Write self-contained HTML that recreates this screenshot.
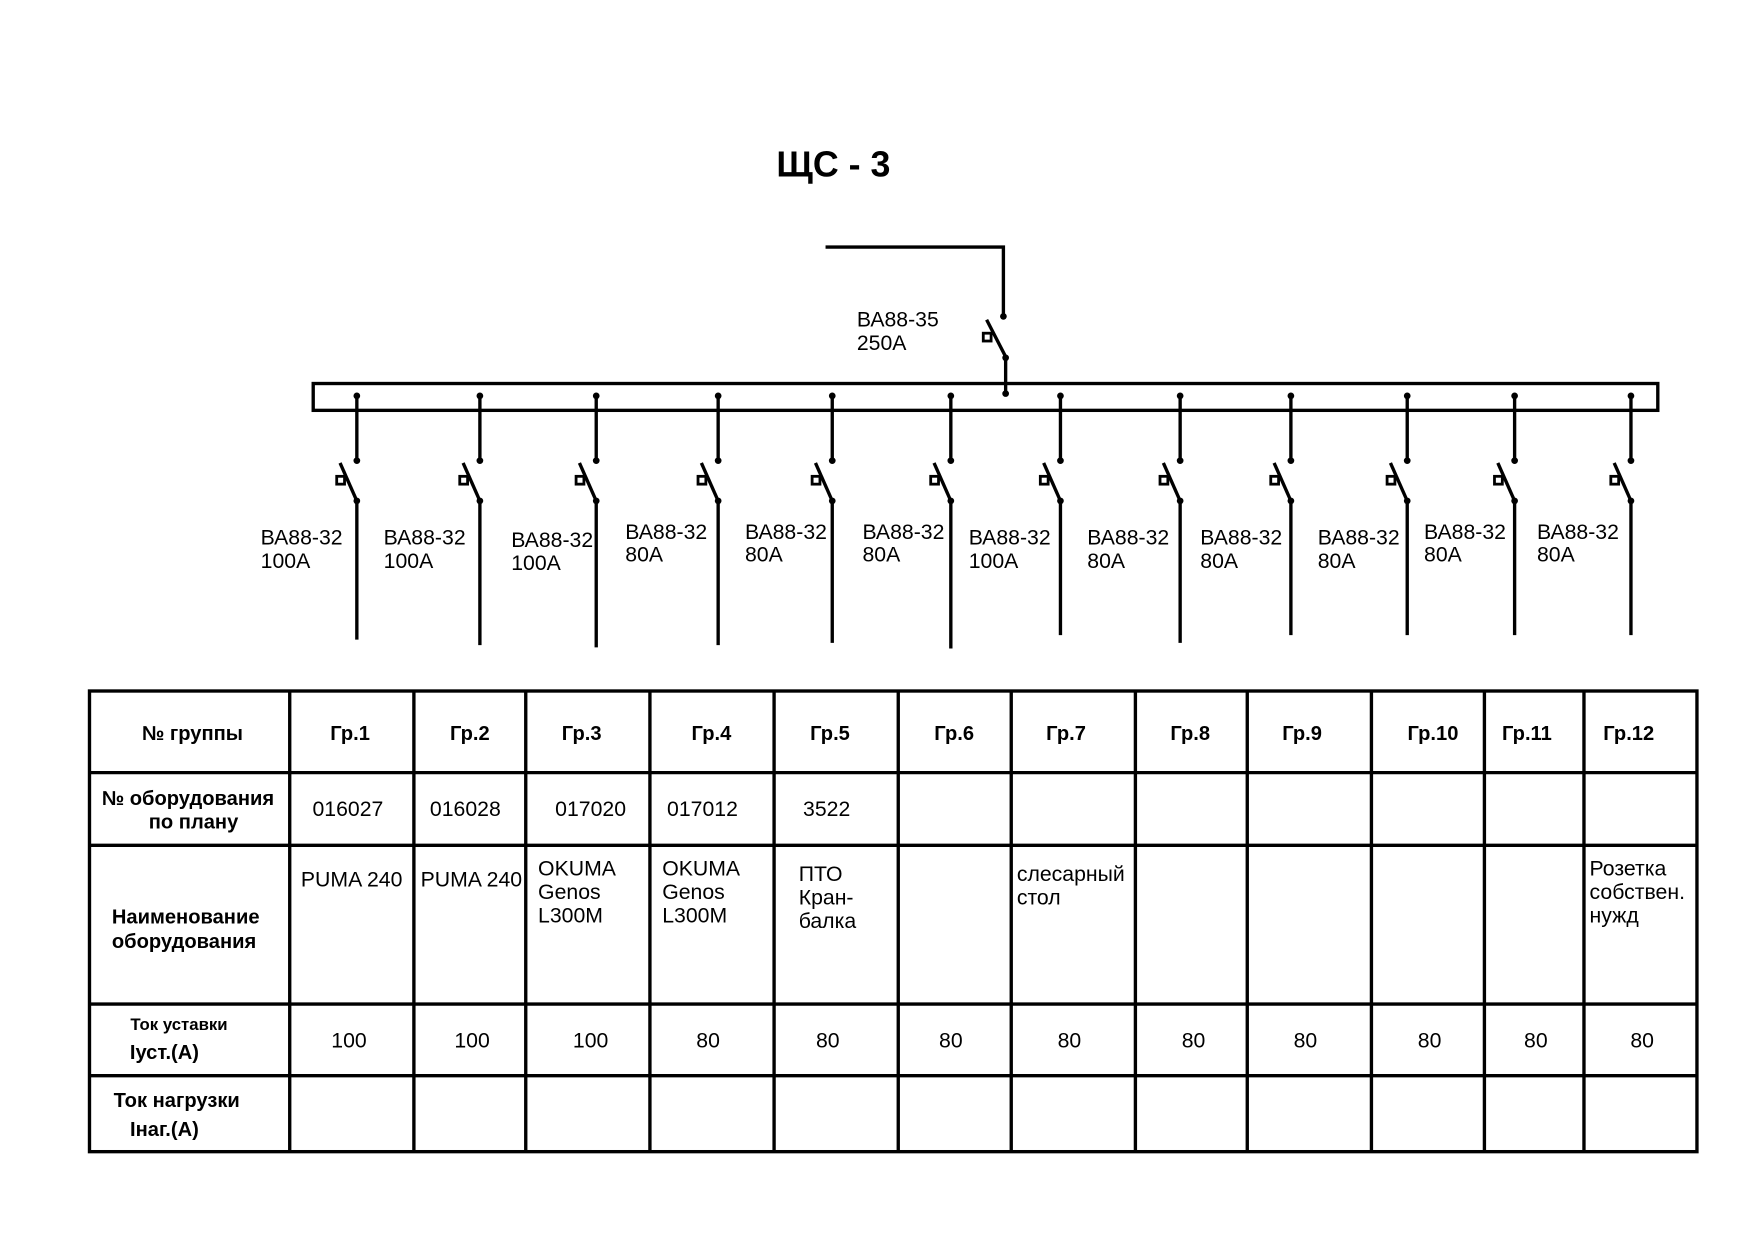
<!DOCTYPE html>
<html><head><meta charset="utf-8"><style>
html,body{margin:0;padding:0;background:#fff;}
svg{display:block;}
text{font-family:"Liberation Sans",Arial,sans-serif;fill:#000;}
.b{font-weight:bold;}
.l{font-size:19px;}
.h{font-size:18px;font-weight:bold;text-anchor:middle;}
.c{font-size:19px;text-anchor:middle;}
</style></head><body>
<svg width="1754" height="1240" viewBox="0 0 1568 1109" preserveAspectRatio="none" xmlns="http://www.w3.org/2000/svg">
<defs>
<g id="sw">
<line x1="0" y1="354" x2="0" y2="412" stroke="#000" stroke-width="3"/>
<circle cx="0" cy="354" r="3" fill="#000"/><circle cx="0" cy="412" r="3" fill="#000"/>
<line x1="-15" y1="414" x2="0" y2="448" stroke="#000" stroke-width="3"/>
<rect x="-18" y="426" width="7" height="7" fill="none" stroke="#000" stroke-width="2.5"/>
<circle cx="0" cy="448" r="3" fill="#000"/>
</g>
</defs>
<rect width="1568" height="1109" fill="#fff"/>
<text x="745" y="158" class="b" font-size="32" text-anchor="middle">ЩС - 3</text>
<g stroke="#000" stroke-width="3" fill="none">
<polyline points="738,221 897,221 897,283"/>
<line x1="882" y1="286" x2="899" y2="319"/>
<rect x="879" y="298" width="7" height="7" stroke-width="2.5"/>
<line x1="899" y1="320" x2="899" y2="352"/>
<rect x="280" y="343" width="1202" height="24"/>
</g>
<g fill="#000"><circle cx="897" cy="283" r="3"/><circle cx="899" cy="320" r="3"/><circle cx="899" cy="352" r="3"/></g>
<text x="766" y="292" class="l">ВА88-35</text>
<text x="766" y="313" class="l">250А</text>

<use href="#sw" transform="translate(319,0)"/>
<use href="#sw" transform="translate(429,0)"/>
<use href="#sw" transform="translate(533,0)"/>
<use href="#sw" transform="translate(642,0)"/>
<use href="#sw" transform="translate(744,0)"/>
<use href="#sw" transform="translate(850,0)"/>
<use href="#sw" transform="translate(948,0)"/>
<use href="#sw" transform="translate(1055,0)"/>
<use href="#sw" transform="translate(1154,0)"/>
<use href="#sw" transform="translate(1258,0)"/>
<use href="#sw" transform="translate(1354,0)"/>
<use href="#sw" transform="translate(1458,0)"/>
<g stroke="#000" stroke-width="3">
<line x1="319" y1="448" x2="319" y2="572"/>
<line x1="429" y1="448" x2="429" y2="577"/>
<line x1="533" y1="448" x2="533" y2="579"/>
<line x1="642" y1="448" x2="642" y2="577"/>
<line x1="744" y1="448" x2="744" y2="575"/>
<line x1="850" y1="448" x2="850" y2="580"/>
<line x1="948" y1="448" x2="948" y2="568"/>
<line x1="1055" y1="448" x2="1055" y2="575"/>
<line x1="1154" y1="448" x2="1154" y2="568"/>
<line x1="1258" y1="448" x2="1258" y2="568"/>
<line x1="1354" y1="448" x2="1354" y2="568"/>
<line x1="1458" y1="448" x2="1458" y2="568"/>
</g>
<text x="233" y="487" class="l">ВА88-32</text><text x="233" y="508" class="l">100А</text>
<text x="343" y="487" class="l">ВА88-32</text><text x="343" y="508" class="l">100А</text>
<text x="457" y="489" class="l">ВА88-32</text><text x="457" y="510" class="l">100А</text>
<text x="559" y="482" class="l">ВА88-32</text><text x="559" y="502" class="l">80А</text>
<text x="666" y="482" class="l">ВА88-32</text><text x="666" y="502" class="l">80А</text>
<text x="771" y="482" class="l">ВА88-32</text><text x="771" y="502" class="l">80А</text>
<text x="866" y="487" class="l">ВА88-32</text><text x="866" y="508" class="l">100А</text>
<text x="972" y="487" class="l">ВА88-32</text><text x="972" y="508" class="l">80А</text>
<text x="1073" y="487" class="l">ВА88-32</text><text x="1073" y="508" class="l">80А</text>
<text x="1178" y="487" class="l">ВА88-32</text><text x="1178" y="508" class="l">80А</text>
<text x="1273" y="482" class="l">ВА88-32</text><text x="1273" y="502" class="l">80А</text>
<text x="1374" y="482" class="l">ВА88-32</text><text x="1374" y="502" class="l">80А</text>

<g stroke="#000" stroke-width="3" fill="none">
<rect x="80" y="618" width="1437" height="412"/>
<line x1="259" y1="618" x2="259" y2="1030"/>
<line x1="370" y1="618" x2="370" y2="1030"/>
<line x1="470" y1="618" x2="470" y2="1030"/>
<line x1="581" y1="618" x2="581" y2="1030"/>
<line x1="692" y1="618" x2="692" y2="1030"/>
<line x1="803" y1="618" x2="803" y2="1030"/>
<line x1="904" y1="618" x2="904" y2="1030"/>
<line x1="1015" y1="618" x2="1015" y2="1030"/>
<line x1="1115" y1="618" x2="1115" y2="1030"/>
<line x1="1226" y1="618" x2="1226" y2="1030"/>
<line x1="1327" y1="618" x2="1327" y2="1030"/>
<line x1="1416" y1="618" x2="1416" y2="1030"/>
<line x1="80" y1="691" x2="1517" y2="691"/>
<line x1="80" y1="756" x2="1517" y2="756"/>
<line x1="80" y1="898" x2="1517" y2="898"/>
<line x1="80" y1="962" x2="1517" y2="962"/>
</g>
<text x="172" y="662" class="h">№ группы</text>
<text x="313" y="662" class="h">Гр.1</text>
<text x="420" y="662" class="h">Гр.2</text>
<text x="520" y="662" class="h">Гр.3</text>
<text x="636" y="662" class="h">Гр.4</text>
<text x="742" y="662" class="h">Гр.5</text>
<text x="853" y="662" class="h">Гр.6</text>
<text x="953" y="662" class="h">Гр.7</text>
<text x="1064" y="662" class="h">Гр.8</text>
<text x="1164" y="662" class="h">Гр.9</text>
<text x="1281" y="662" class="h">Гр.10</text>
<text x="1365" y="662" class="h">Гр.11</text>
<text x="1456" y="662" class="h">Гр.12</text>

<text x="168" y="720" class="h">№ оборудования</text>
<text x="173" y="741" class="h">по плану</text>
<text x="311" y="730" class="c">016027</text>
<text x="416" y="730" class="c">016028</text>
<text x="528" y="730" class="c">017020</text>
<text x="628" y="730" class="c">017012</text>
<text x="739" y="730" class="c">3522</text>

<text x="100" y="826" class="b" font-size="18">Наименование</text>
<text x="100" y="848" class="b" font-size="18">оборудования</text>
<text x="269" y="793" class="l">PUMA 240</text>
<text x="376" y="793" class="l">PUMA 240</text>
<text x="481" y="783" class="l">OKUMA</text><text x="481" y="804" class="l">Genos</text><text x="481" y="825" class="l">L300M</text>
<text x="592" y="783" class="l">OKUMA</text><text x="592" y="804" class="l">Genos</text><text x="592" y="825" class="l">L300M</text>
<text x="714" y="788" class="l">ПТО</text><text x="714" y="809" class="l">Кран-</text><text x="714" y="830" class="l">балка</text>
<text x="909" y="788" class="l">слесарный</text><text x="909" y="809" class="l">стол</text>
<text x="1421" y="783" class="l">Розетка</text><text x="1421" y="804" class="l">собствен.</text><text x="1421" y="825" class="l">нужд</text>

<text x="160" y="921" class="h" style="font-size:15px">Ток уставки</text>
<text x="147" y="947" class="h">Iуст.(А)</text>
<text x="312" y="937" class="c">100</text>
<text x="422" y="937" class="c">100</text>
<text x="528" y="937" class="c">100</text>
<text x="633" y="937" class="c">80</text>
<text x="740" y="937" class="c">80</text>
<text x="850" y="937" class="c">80</text>
<text x="956" y="937" class="c">80</text>
<text x="1067" y="937" class="c">80</text>
<text x="1167" y="937" class="c">80</text>
<text x="1278" y="937" class="c">80</text>
<text x="1373" y="937" class="c">80</text>
<text x="1468" y="937" class="c">80</text>

<text x="158" y="990" class="h">Ток нагрузки</text>
<text x="147" y="1016" class="h">Iнаг.(А)</text>
</svg>
</body></html>
